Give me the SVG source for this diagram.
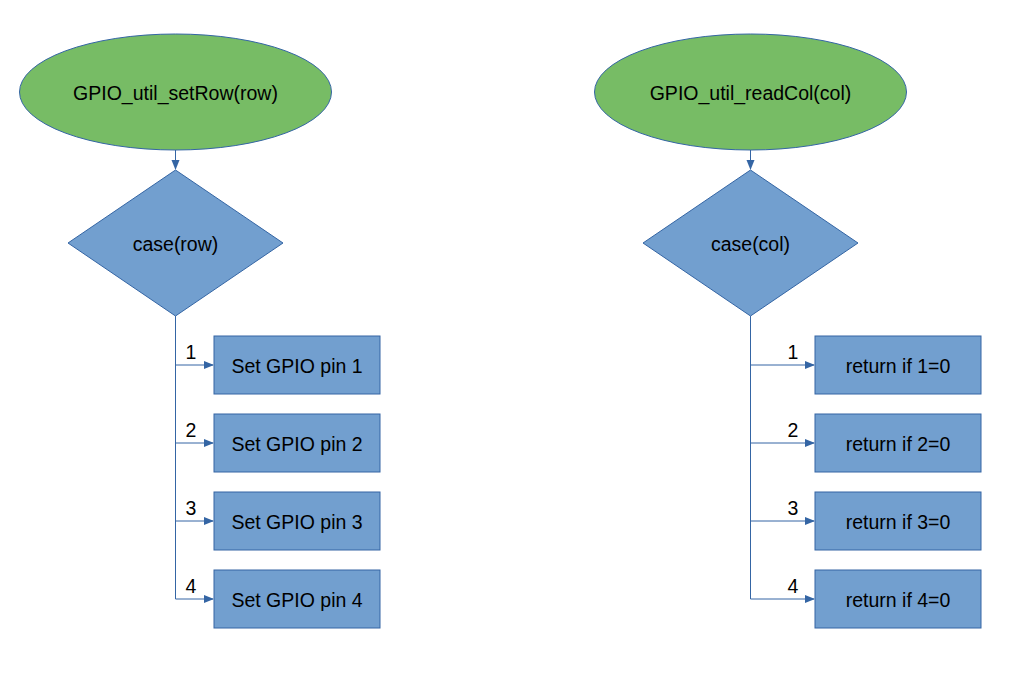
<svg xmlns="http://www.w3.org/2000/svg" width="1032" height="682" viewBox="0 0 1032 682">
<style>
.ell{fill:#77bc65;stroke:#3465a4;stroke-width:1}
.blk{fill:#729fcf;stroke:#3465a4;stroke-width:1}
.t{font-family:"Liberation Sans",Arial,sans-serif;font-size:19.5px;fill:#000;text-anchor:middle;dominant-baseline:central}
.l{font-family:"Liberation Sans",Arial,sans-serif;font-size:19.5px;fill:#000;text-anchor:middle}
.c{fill:none;stroke:#3465a4;stroke-width:1}
</style>
<defs>
<marker id="a" markerWidth="10" markerHeight="10" refX="9" refY="5" orient="auto" markerUnits="userSpaceOnUse"><path d="M0,1 L10,5 L0,9 Z" fill="#3465a4"/></marker>
</defs>
<rect width="1032" height="682" fill="#fff"/>
<g id="connectors">
<path class="c" d="M175.5,150 V169" marker-end="url(#a)"/>
<path class="c" d="M175.5,316 V599"/>
<path class="c" d="M175.5,365 H213" marker-end="url(#a)"/>
<path class="c" d="M175.5,443 H213" marker-end="url(#a)"/>
<path class="c" d="M175.5,521 H213" marker-end="url(#a)"/>
<path class="c" d="M175.5,599 H213" marker-end="url(#a)"/>
<path class="c" d="M750.5,150 V169" marker-end="url(#a)"/>
<path class="c" d="M750.5,316 V599"/>
<path class="c" d="M750.5,365 H814" marker-end="url(#a)"/>
<path class="c" d="M750.5,443 H814" marker-end="url(#a)"/>
<path class="c" d="M750.5,521 H814" marker-end="url(#a)"/>
<path class="c" d="M750.5,599 H814" marker-end="url(#a)"/>
<text class="l" x="191" y="359">1</text>
<text class="l" x="191" y="437">2</text>
<text class="l" x="191" y="515">3</text>
<text class="l" x="191" y="593">4</text>
<text class="l" x="793" y="359">1</text>
<text class="l" x="793" y="437">2</text>
<text class="l" x="793" y="515">3</text>
<text class="l" x="793" y="593">4</text>
</g>
<g id="start1"><ellipse class="ell" cx="175.5" cy="92" rx="156" ry="58"/><text class="t" x="175.5" y="93">GPIO_util_setRow(row)</text></g>
<g id="case1"><polygon class="blk" points="175.5,170 283,243 175.5,316 68,243"/><text class="t" x="175.5" y="244">case(row)</text></g>
<g id="set1"><rect class="blk" x="214" y="336" width="166" height="58"/><text class="t" x="297" y="366">Set GPIO pin 1</text></g>
<g id="set2"><rect class="blk" x="214" y="414" width="166" height="58"/><text class="t" x="297" y="444">Set GPIO pin 2</text></g>
<g id="set3"><rect class="blk" x="214" y="492" width="166" height="58"/><text class="t" x="297" y="522">Set GPIO pin 3</text></g>
<g id="set4"><rect class="blk" x="214" y="570" width="166" height="58"/><text class="t" x="297" y="600">Set GPIO pin 4</text></g>
<g id="start2"><ellipse class="ell" cx="750.5" cy="92" rx="156" ry="58"/><text class="t" x="750.5" y="93">GPIO_util_readCol(col)</text></g>
<g id="case2"><polygon class="blk" points="750.5,170 858,243 750.5,316 643,243"/><text class="t" x="750.5" y="244">case(col)</text></g>
<g id="ret1"><rect class="blk" x="815" y="336" width="166" height="58"/><text class="t" x="898" y="366">return if 1=0</text></g>
<g id="ret2"><rect class="blk" x="815" y="414" width="166" height="58"/><text class="t" x="898" y="444">return if 2=0</text></g>
<g id="ret3"><rect class="blk" x="815" y="492" width="166" height="58"/><text class="t" x="898" y="522">return if 3=0</text></g>
<g id="ret4"><rect class="blk" x="815" y="570" width="166" height="58"/><text class="t" x="898" y="600">return if 4=0</text></g>
</svg>
